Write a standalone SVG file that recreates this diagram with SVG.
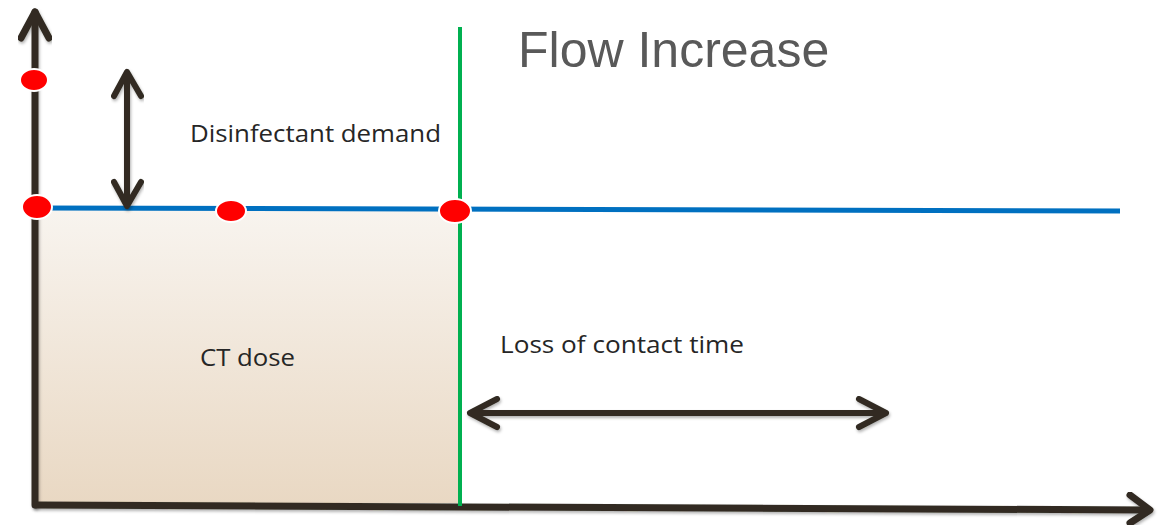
<svg xmlns="http://www.w3.org/2000/svg" width="1171" height="525" viewBox="0 0 1171 525">
  <defs>
    <linearGradient id="fillGrad" x1="0" y1="0" x2="0" y2="1">
      <stop offset="0" stop-color="#f8f4ef"/>
      <stop offset="1" stop-color="#e9d8c3"/>
    </linearGradient>
    <filter id="sh" x="-10%" y="-10%" width="120%" height="140%">
      <feDropShadow dx="1" dy="2" stdDeviation="1.5" flood-color="#000" flood-opacity="0.3"/>
    </filter>
  </defs>
  <style>
    .ax { stroke: #312c22; stroke-width: 7; fill: none; stroke-linecap: round; stroke-linejoin: round; }
    .dbl { stroke: #312c22; stroke-width: 6; fill: none; stroke-linecap: round; stroke-linejoin: round; }
    .dot { fill: #ff0000; stroke: #ffffff; stroke-width: 2; }
    .lbl { font-family: "Open Sans", "Noto Sans", sans-serif; font-size: 23px; fill: #262626; }
    .title { font-family: "Liberation Sans", Arial, sans-serif; font-size: 50px; fill: #595959; }
  </style>

  <g id="ct-area">
    <rect x="38" y="209" width="421" height="294" fill="url(#fillGrad)"/>
  </g>

  <g id="connectors">
    <!-- axes -->
    <g id="y-axis" filter="url(#sh)">
      <path class="ax" d="M35 505 L35 12"/>
      <path class="ax" d="M21 38 L35 12 L49 38"/>
    </g>
    <g id="x-axis" filter="url(#sh)">
      <path class="ax" d="M36 505 L1149 510"/>
      <path class="ax" d="M1130 495 L1150 510 L1130 523"/>
    </g>
    <!-- blue concentration line -->
    <path id="blue-line" d="M40 208 L1120 211" stroke="#0070c0" stroke-width="5" fill="none"/>
    <!-- green flow increase line -->
    <path id="green-line" d="M460 27 L460 506" stroke="#00b050" stroke-width="4" fill="none"/>
    <!-- demand double arrow -->
    <g id="demand-arrow" filter="url(#sh)">
      <path class="dbl" d="M127 74 L127 204"/>
      <path class="dbl" d="M114 96 L127 72 L141 96"/>
      <path class="dbl" d="M114 182 L127 206 L141 182"/>
    </g>
    <!-- contact time double arrow -->
    <g id="contact-arrow" filter="url(#sh)">
      <path class="dbl" d="M472 413 L885 413"/>
    <path class="dbl" d="M497 399 L470 413 L497 427"/>
      <path class="dbl" d="M859 399 L886 413 L859 427"/>
    </g>
  </g>

  <g id="points">
    <ellipse class="dot" cx="34" cy="80" rx="14" ry="11"/>
    <ellipse class="dot" cx="37" cy="207" rx="15" ry="12"/>
    <ellipse class="dot" cx="231" cy="211" rx="15" ry="11"/>
    <ellipse class="dot" cx="455" cy="211" rx="16" ry="12"/>
  </g>

  <g id="title">
    <text class="title" x="518" y="67">Flow Increase</text>
  </g>
  <g id="label-demand">
    <text class="lbl" x="190" y="142" textLength="251" lengthAdjust="spacingAndGlyphs">Disinfectant demand</text>
  </g>
  <g id="label-ct">
    <text class="lbl" x="200" y="366" textLength="95" lengthAdjust="spacingAndGlyphs">CT dose</text>
  </g>
  <g id="label-loss">
    <text class="lbl" x="500" y="353" textLength="244" lengthAdjust="spacingAndGlyphs">Loss of contact time</text>
  </g>
</svg>
